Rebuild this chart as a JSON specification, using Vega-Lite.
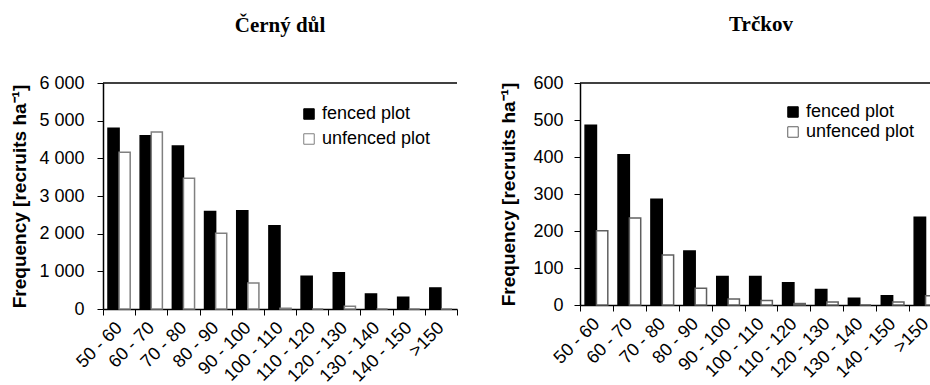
{
  "$schema": "https://vega.github.io/schema/vega-lite/v6.json",
  "background": "white",
  "padding": {"left": 10, "top": 14, "right": 0, "bottom": 0},
  "spacing": 41,
  "datasets": {
    "cerny": [
      {"size": "50 - 60", "plot": "fenced plot", "freq": 4800},
      {"size": "50 - 60", "plot": "unfenced plot", "freq": 4160},
      {"size": "60 - 70", "plot": "fenced plot", "freq": 4600},
      {"size": "60 - 70", "plot": "unfenced plot", "freq": 4700},
      {"size": "70 - 80", "plot": "fenced plot", "freq": 4330},
      {"size": "70 - 80", "plot": "unfenced plot", "freq": 3470},
      {"size": "80 - 90", "plot": "fenced plot", "freq": 2590},
      {"size": "80 - 90", "plot": "unfenced plot", "freq": 2010},
      {"size": "90 - 100", "plot": "fenced plot", "freq": 2610},
      {"size": "90 - 100", "plot": "unfenced plot", "freq": 690},
      {"size": "100 - 110", "plot": "fenced plot", "freq": 2210},
      {"size": "100 - 110", "plot": "unfenced plot", "freq": 20},
      {"size": "110 - 120", "plot": "fenced plot", "freq": 870},
      {"size": "110 - 120", "plot": "unfenced plot", "freq": 0},
      {"size": "120 - 130", "plot": "fenced plot", "freq": 960},
      {"size": "120 - 130", "plot": "unfenced plot", "freq": 70},
      {"size": "130 - 140", "plot": "fenced plot", "freq": 400},
      {"size": "130 - 140", "plot": "unfenced plot", "freq": 0},
      {"size": "140 - 150", "plot": "fenced plot", "freq": 310},
      {"size": "140 - 150", "plot": "unfenced plot", "freq": 0},
      {"size": ">150", "plot": "fenced plot", "freq": 560},
      {"size": ">150", "plot": "unfenced plot", "freq": 0}
    ],
    "trckov": [
      {"size": "50 - 60", "plot": "fenced plot", "freq": 486},
      {"size": "50 - 60", "plot": "unfenced plot", "freq": 201},
      {"size": "60 - 70", "plot": "fenced plot", "freq": 406},
      {"size": "60 - 70", "plot": "unfenced plot", "freq": 235},
      {"size": "70 - 80", "plot": "fenced plot", "freq": 286},
      {"size": "70 - 80", "plot": "unfenced plot", "freq": 135},
      {"size": "80 - 90", "plot": "fenced plot", "freq": 146},
      {"size": "80 - 90", "plot": "unfenced plot", "freq": 45},
      {"size": "90 - 100", "plot": "fenced plot", "freq": 77},
      {"size": "90 - 100", "plot": "unfenced plot", "freq": 16},
      {"size": "100 - 110", "plot": "fenced plot", "freq": 77},
      {"size": "100 - 110", "plot": "unfenced plot", "freq": 12},
      {"size": "110 - 120", "plot": "fenced plot", "freq": 60},
      {"size": "110 - 120", "plot": "unfenced plot", "freq": 4},
      {"size": "120 - 130", "plot": "fenced plot", "freq": 42},
      {"size": "120 - 130", "plot": "unfenced plot", "freq": 8},
      {"size": "130 - 140", "plot": "fenced plot", "freq": 18},
      {"size": "130 - 140", "plot": "unfenced plot", "freq": 0},
      {"size": "140 - 150", "plot": "fenced plot", "freq": 25},
      {"size": "140 - 150", "plot": "unfenced plot", "freq": 8},
      {"size": ">150", "plot": "fenced plot", "freq": 237},
      {"size": ">150", "plot": "unfenced plot", "freq": 25}
    ]
  },
  "resolve": {
    "scale": {"x": "independent", "y": "independent", "xOffset": "independent", "fill": "independent", "stroke": "independent"},
    "legend": {"fill": "independent", "stroke": "independent"}
  },
  "hconcat": [
    {
      "width": 354,
      "height": 226,
      "title": {"text": "Černý důl", "font": "Liberation Serif", "fontSize": 21, "fontWeight": "bold", "color": "black", "anchor": "middle", "offset": 38},
      "layer": [
        {
          "data": {"name": "cerny"},
          "mark": {"type": "bar", "strokeWidth": 1.5},
          "encoding": {
            "x": {
              "field": "size", "type": "nominal", "sort": null,
              "scale": {"paddingInner": 0, "paddingOuter": 0},
              "axis": {"title": null, "labelAngle": -45, "labelAlign": "right", "labelBaseline": "middle", "labelFontSize": 18, "labelPadding": 10, "labelOverlap": false, "labelBound": false, "tickBand": "extent", "tickSize": 6}
            },
            "xOffset": {"field": "plot", "sort": ["fenced plot", "unfenced plot"], "scale": {"paddingOuter": 0.45, "paddingInner": 0}},
            "y": {
              "field": "freq", "type": "quantitative",
              "scale": {"domain": [0, 6000], "nice": false},
              "axis": {"title": "Frequency [recruits ha⁻¹]", "titlePadding": 9, "labelPadding": 13, "labelOverlap": false, "values": [0, 1000, 2000, 3000, 4000, 5000, 6000], "labelExpr": "replace(format(datum.value, ','), ',', ' ')"}
            },
            "fill": {
              "field": "plot", "type": "nominal",
              "scale": {"domain": ["fenced plot", "unfenced plot"], "range": ["#000000", "#ffffff"]},
              "legend": {"title": null, "orient": "none", "legendX": 197, "legendY": 22, "rowPadding": 7}
            },
            "stroke": {
              "field": "plot", "type": "nominal",
              "scale": {"domain": ["fenced plot", "unfenced plot"], "range": ["#000000", "#808080"]},
              "legend": {"title": null, "orient": "none", "legendX": 197, "legendY": 22, "rowPadding": 7}
            }
          }
        },
        {
          "data": {"values": [{}]},
          "mark": {"type": "rule", "color": "black", "strokeWidth": 1.5},
          "encoding": {
            "y": {
              "datum": 6000, "type": "quantitative",
              "axis": {"title": "Frequency [recruits ha⁻¹]", "titlePadding": 9, "labelPadding": 13, "labelOverlap": false, "values": [0, 1000, 2000, 3000, 4000, 5000, 6000], "labelExpr": "replace(format(datum.value, ','), ',', ' ')"}
            }
          }
        }
      ]
    },
    {
      "width": 362,
      "height": 222,
      "title": {"text": "Trčkov", "font": "Liberation Serif", "fontSize": 21, "fontWeight": "bold", "color": "black", "anchor": "middle", "offset": 39},
      "layer": [
        {
          "data": {"name": "trckov"},
          "mark": {"type": "bar", "strokeWidth": 1.5},
          "encoding": {
            "x": {
              "field": "size", "type": "nominal", "sort": null,
              "scale": {"paddingInner": 0, "paddingOuter": 0},
              "axis": {"title": null, "labelAngle": -45, "labelAlign": "right", "labelBaseline": "middle", "labelFontSize": 18, "labelPadding": 10, "labelOverlap": false, "labelBound": false, "tickBand": "extent", "tickSize": 6}
            },
            "xOffset": {"field": "plot", "sort": ["fenced plot", "unfenced plot"], "scale": {"paddingOuter": 0.45, "paddingInner": 0}},
            "y": {
              "field": "freq", "type": "quantitative",
              "scale": {"domain": [0, 600], "nice": false},
              "axis": {"title": "Frequency [recruits ha⁻¹]", "titlePadding": 14, "labelPadding": 11, "labelOverlap": false, "values": [0, 100, 200, 300, 400, 500, 600]}
            },
            "fill": {
              "field": "plot", "type": "nominal",
              "scale": {"domain": ["fenced plot", "unfenced plot"], "range": ["#000000", "#ffffff"]},
              "legend": {"title": null, "orient": "none", "legendX": 204, "legendY": 20, "rowPadding": 2}
            },
            "stroke": {
              "field": "plot", "type": "nominal",
              "scale": {"domain": ["fenced plot", "unfenced plot"], "range": ["#000000", "#606060"]},
              "legend": {"title": null, "orient": "none", "legendX": 204, "legendY": 20, "rowPadding": 2}
            }
          }
        },
        {
          "data": {"values": [{}]},
          "mark": {"type": "rule", "color": "black", "strokeWidth": 1.5},
          "encoding": {
            "y": {
              "datum": 600, "type": "quantitative",
              "axis": {"title": "Frequency [recruits ha⁻¹]", "titlePadding": 14, "labelPadding": 11, "labelOverlap": false, "values": [0, 100, 200, 300, 400, 500, 600]}
            }
          }
        }
      ]
    }
  ],
  "config": {
    "font": "Liberation Sans",
    "view": {"stroke": null},
    "axis": {
      "labelFont": "Liberation Sans", "labelColor": "black", "labelFontSize": 18, "labelFlush": false,
      "titleFont": "Liberation Sans", "titleFontSize": 19, "titleFontWeight": "bold", "titleColor": "black",
      "domainColor": "black", "domainWidth": 1.5, "tickColor": "black", "tickWidth": 1, "tickSize": 6, "grid": false
    },
    "legend": {
      "labelFont": "Liberation Sans", "labelFontSize": 18, "labelColor": "black", "labelOffset": 4,
      "symbolType": "square", "symbolSize": 110, "symbolStrokeWidth": 1, "padding": 0
    }
  }
}
